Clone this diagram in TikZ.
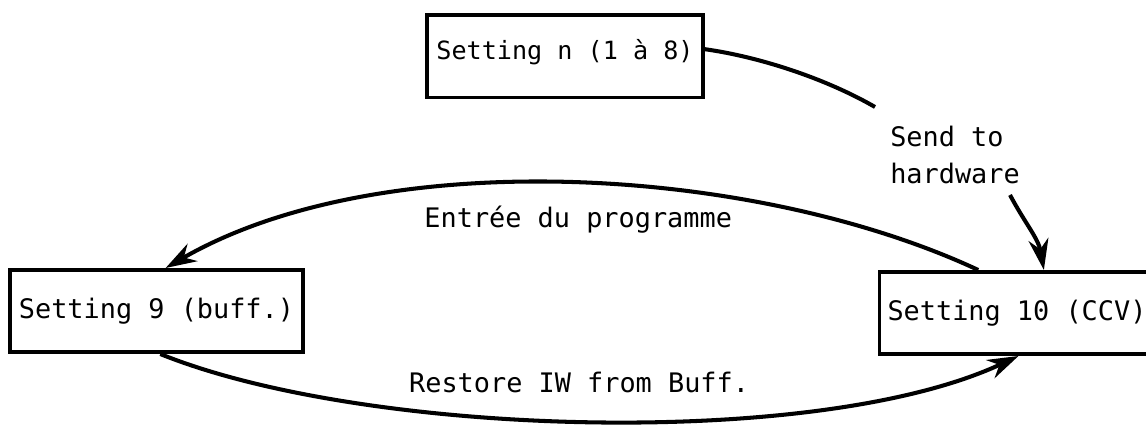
\documentclass[tikz,border=0pt]{standalone}
\usepackage{fontspec}
\setmonofont{DejaVu Sans Mono}
\usetikzlibrary{arrows.meta}

\begin{document}
\begin{tikzpicture}[x=0.02cm, y=0.02cm,
                    font=\ttfamily\fontsize{15.3}{21.5}\selectfont,
                    main node/.style={draw, line width=2pt, inner sep=0pt, minimum height=1.65cm},
                    link/.style={line width=2.3pt},
                    flow/.style={link, -{Stealth[length=0.62cm, width=0.4cm, inset=0.2cm]}}]

  \useasboundingbox (0,0) rectangle (1146,425);

  \node[main node, minimum width=5.52cm, font=\ttfamily\fontsize{14.3}{18}\selectfont,
        text height=10.4pt, text depth=6.8pt] (n) at (565,368.5) {Setting n (1 à 8)};
  \node[main node, minimum width=5.86cm] (buff) at (156.5,114) {Setting 9 (buff.)};
  \node[main node, minimum width=5.5cm] (ccv) at (1017,112) {Setting 10 (CCV)};

  \node[align=left] (hw) at (955,270) {Send to\\hardware};
  \coordinate (hwin) at (875,318);
  \coordinate (hwout) at (1010,230);

  \draw[link] (n.3) to[out=-8, in=150, looseness=0.8] (hwin);
  \draw[flow] (hwout) to[out=-62, in=100] (ccv.58);

  \draw[flow] (ccv.132) to[out=155, in=30, looseness=0.78]
    node[midway, xshift=0.2cm, yshift=-0.73cm] {Entrée du programme} (buff.78);
  \draw[flow] (buff.-85) to[out=-22, in=-155, looseness=0.66]
    node[midway, xshift=-0.24cm, yshift=0.77cm] {Restore IW from Buff.} (ccv.-88);
\end{tikzpicture}
\end{document}
